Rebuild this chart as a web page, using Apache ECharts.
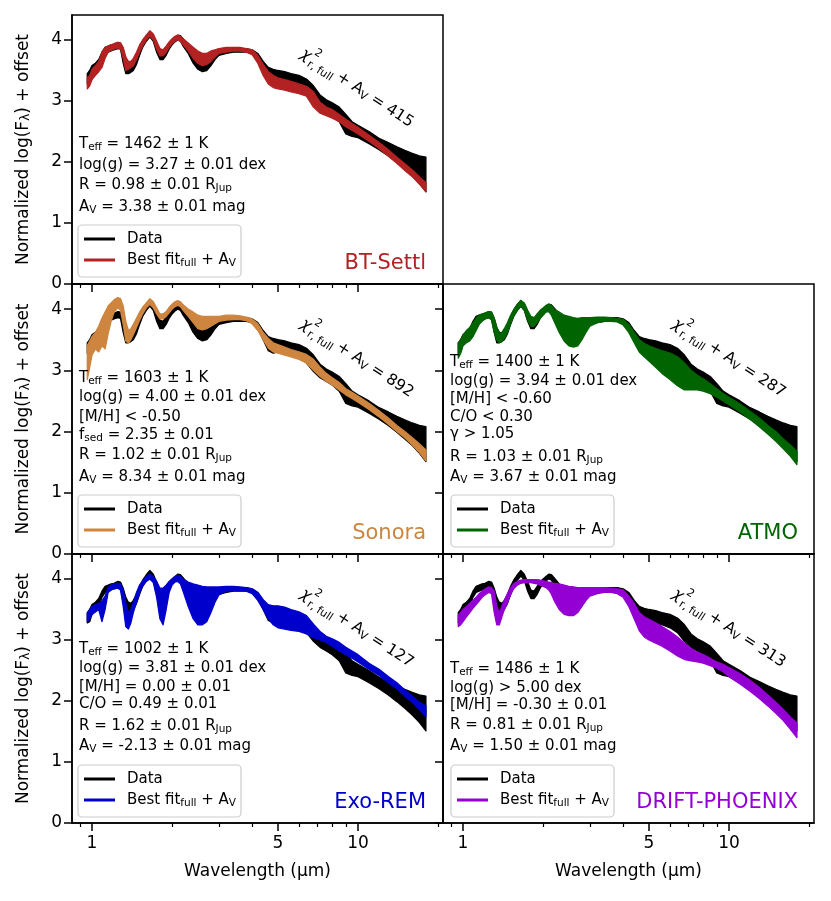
<!DOCTYPE html>
<html><head><meta charset="utf-8">
<script src="https://cdn.jsdelivr.net/npm/echarts@6/dist/echarts.min.js"></script>
<style>html,body{margin:0;padding:0;background:#fff}#chart{width:831px;height:901px}</style>
</head><body><div id="chart"></div>
<script>
// ---------------- DATA ----------------
const wavelength = [0.96,0.98,1.00,1.03,1.06,1.09,1.12,1.15,1.18,1.21,
  1.25,1.28,1.31,1.34,1.37,1.40,1.43,1.47,1.51,1.55,
  1.60,1.65,1.70,1.75,1.80,1.85,1.90,1.95,2.00,2.05,
  2.10,2.15,2.20,2.30,2.40,2.50,2.60,2.70,2.80,2.90,
  3.00,3.20,3.40,3.60,3.80,4.00,4.20,4.40,4.60,4.80,
  5.00,5.30,5.60,6.00,6.40,6.80,7.20,7.60,8.00,8.50,
  9.00,9.50,10.0,11.0,12.0,13.0,14.0,15.0,16.0,17.0,
  18.0];

const dataLow = [3.28,3.30,3.42,3.48,3.55,3.70,3.78,3.80,3.82,3.84,
  3.86,3.85,3.62,3.45,3.45,3.47,3.50,3.60,3.75,3.88,
  3.98,4.05,3.98,3.80,3.68,3.68,3.75,3.85,3.92,3.97,
  4.00,3.98,3.90,3.78,3.62,3.52,3.48,3.50,3.58,3.68,
  3.75,3.78,3.80,3.80,3.80,3.78,3.68,3.50,3.32,3.28,
  3.30,3.28,3.25,3.20,3.12,2.98,2.88,2.82,2.76,2.66,
  2.46,2.42,2.40,2.30,2.20,2.10,1.99,1.88,1.77,1.65,
  1.51];
const dataHigh = [3.45,3.50,3.58,3.62,3.68,3.80,3.88,3.90,3.92,3.93,
  3.96,3.95,3.85,3.70,3.62,3.60,3.65,3.75,3.88,3.98,
  4.07,4.14,4.08,3.95,3.82,3.80,3.88,3.95,4.00,4.04,
  4.08,4.07,4.02,3.92,3.82,3.75,3.70,3.68,3.75,3.80,
  3.85,3.86,3.86,3.86,3.86,3.84,3.78,3.65,3.55,3.52,
  3.50,3.48,3.45,3.42,3.36,3.25,3.10,3.02,2.97,2.90,
  2.78,2.66,2.60,2.50,2.39,2.32,2.25,2.19,2.14,2.10,
  2.08];

const btSettlLow = [3.20,3.25,3.35,3.42,3.48,3.55,3.70,3.80,3.83,3.85,
  3.87,3.86,3.70,3.50,3.52,3.55,3.58,3.68,3.80,3.90,
  4.00,4.07,4.00,3.85,3.74,3.74,3.80,3.88,3.94,3.98,
  4.00,3.98,3.92,3.82,3.70,3.62,3.58,3.60,3.65,3.72,
  3.78,3.80,3.82,3.82,3.80,3.76,3.62,3.42,3.28,3.22,
  3.20,3.18,3.15,3.12,3.08,2.90,2.80,2.76,2.72,2.66,
  2.58,2.52,2.46,2.34,2.22,2.10,1.98,1.86,1.76,1.64,
  1.52];
const btSettlHigh = [3.38,3.42,3.52,3.58,3.65,3.80,3.88,3.90,3.92,3.94,
  3.96,3.95,3.88,3.72,3.65,3.65,3.70,3.80,3.92,4.00,
  4.08,4.15,4.10,3.98,3.86,3.84,3.90,3.97,4.02,4.06,
  4.08,4.06,4.02,3.95,3.88,3.82,3.78,3.78,3.82,3.84,
  3.86,3.88,3.88,3.88,3.86,3.84,3.75,3.60,3.48,3.42,
  3.38,3.35,3.32,3.28,3.24,3.15,2.98,2.90,2.86,2.78,
  2.70,2.63,2.57,2.44,2.32,2.20,2.08,1.97,1.87,1.76,
  1.66];

const sonoraLow = [2.85,3.05,3.25,3.35,3.30,3.40,3.35,3.60,3.80,3.95,
  4.02,3.98,3.75,3.48,3.45,3.50,3.58,3.70,3.82,3.92,
  4.02,4.08,4.02,3.92,3.84,3.84,3.88,3.94,4.00,4.04,
  4.06,4.04,3.98,3.88,3.78,3.68,3.66,3.68,3.72,3.76,
  3.80,3.82,3.83,3.83,3.81,3.76,3.65,3.50,3.36,3.30,
  3.28,3.25,3.22,3.18,3.12,3.00,2.90,2.82,2.76,2.68,
  2.60,2.54,2.48,2.36,2.24,2.12,2.00,1.90,1.78,1.66,
  1.52];
const sonoraHigh = [3.40,3.48,3.55,3.62,3.72,3.85,3.95,4.05,4.10,4.15,
  4.19,4.17,4.05,3.80,3.65,3.68,3.75,3.85,3.95,4.03,
  4.10,4.17,4.12,4.02,3.92,3.92,3.96,4.03,4.08,4.12,
  4.14,4.12,4.07,4.00,3.95,3.90,3.88,3.88,3.88,3.88,
  3.88,3.90,3.90,3.89,3.87,3.84,3.76,3.62,3.52,3.45,
  3.42,3.38,3.34,3.30,3.26,3.18,3.05,2.95,2.88,2.80,
  2.70,2.64,2.58,2.46,2.34,2.22,2.10,2.00,1.90,1.80,
  1.70];

const atmoLow = [3.20,3.28,3.40,3.45,3.48,3.55,3.65,3.75,3.80,3.84,
  3.86,3.82,3.62,3.50,3.45,3.47,3.52,3.62,3.76,3.88,
  3.98,4.05,3.98,3.82,3.72,3.72,3.78,3.85,3.90,3.95,
  3.96,3.90,3.80,3.62,3.48,3.40,3.38,3.40,3.50,3.62,
  3.72,3.78,3.80,3.80,3.79,3.74,3.62,3.45,3.30,3.22,
  3.15,3.05,2.95,2.85,2.75,2.68,2.68,2.68,2.66,2.62,
  2.56,2.50,2.44,2.32,2.20,2.08,1.96,1.84,1.72,1.60,
  1.46];
const atmoHigh = [3.45,3.50,3.58,3.65,3.70,3.78,3.85,3.90,3.92,3.94,
  3.96,3.95,3.85,3.70,3.60,3.62,3.68,3.78,3.90,3.99,
  4.08,4.14,4.10,3.98,3.88,3.86,3.92,3.98,4.02,4.06,
  4.08,4.06,4.00,3.95,3.90,3.88,3.86,3.85,3.86,3.86,
  3.86,3.87,3.87,3.86,3.85,3.83,3.75,3.62,3.50,3.44,
  3.40,3.36,3.32,3.28,3.22,3.12,3.00,2.92,2.86,2.78,
  2.70,2.62,2.56,2.45,2.33,2.22,2.10,2.00,1.88,1.78,
  1.68];

const exoRemLow = [3.30,3.35,3.42,3.46,3.50,3.30,3.50,3.78,3.82,3.84,
  3.85,3.82,3.55,3.22,3.18,3.28,3.45,3.62,3.78,3.88,
  3.96,4.00,3.94,3.70,3.35,3.25,3.50,3.78,3.90,3.95,
  3.96,3.92,3.80,3.55,3.35,3.25,3.25,3.30,3.45,3.62,
  3.74,3.80,3.81,3.81,3.80,3.76,3.65,3.50,3.35,3.25,
  3.20,3.18,3.16,3.14,3.10,3.04,3.00,2.96,2.90,2.82,
  2.76,2.70,2.64,2.52,2.42,2.30,2.20,2.08,1.98,1.86,
  1.74];
const exoRemHigh = [3.44,3.50,3.55,3.58,3.60,3.64,3.72,3.86,3.90,3.92,
  3.93,3.92,3.82,3.60,3.45,3.50,3.62,3.78,3.90,3.97,
  4.04,4.08,4.04,3.96,3.85,3.85,3.90,3.96,4.00,4.04,
  4.06,4.04,4.00,3.95,3.92,3.90,3.88,3.87,3.87,3.87,
  3.87,3.88,3.88,3.87,3.86,3.84,3.78,3.66,3.58,3.56,
  3.56,3.54,3.50,3.46,3.40,3.26,3.14,3.06,3.02,2.96,
  2.88,2.82,2.76,2.62,2.52,2.40,2.30,2.18,2.08,1.98,
  1.92];

const driftLow = [3.22,3.25,3.30,3.38,3.45,3.52,3.58,3.64,3.70,3.74,
  3.78,3.76,3.45,3.25,3.25,3.38,3.50,3.62,3.74,3.84,
  3.90,3.93,3.94,3.94,3.94,3.93,3.92,3.90,3.88,3.86,
  3.82,3.75,3.65,3.50,3.42,3.40,3.40,3.45,3.55,3.65,
  3.72,3.76,3.78,3.78,3.76,3.70,3.55,3.35,3.15,3.05,
  3.00,2.95,2.90,2.82,2.74,2.68,2.66,2.64,2.62,2.58,
  2.54,2.48,2.40,2.28,2.16,2.04,1.92,1.80,1.68,1.54,
  1.40];
const driftHigh = [3.41,3.45,3.50,3.55,3.60,3.65,3.70,3.76,3.80,3.84,
  3.87,3.86,3.80,3.55,3.45,3.55,3.65,3.76,3.86,3.92,
  3.96,3.98,3.99,3.99,3.99,3.99,3.99,3.98,3.97,3.96,
  3.95,3.94,3.93,3.92,3.90,3.88,3.87,3.86,3.86,3.86,
  3.86,3.86,3.86,3.85,3.84,3.82,3.72,3.60,3.45,3.38,
  3.34,3.28,3.22,3.14,3.05,2.95,2.86,2.80,2.76,2.70,
  2.64,2.60,2.55,2.45,2.34,2.22,2.10,1.98,1.86,1.74,
  1.64];

const modelNames = ['BT-Settl','Sonora','ATMO','Exo-REM','DRIFT-PHOENIX'];
const chiValues = [415, 892, 287, 127, 313];
const paramTexts = [
  ['T{s|eff} = 1462 ± 1 K','log(g) = 3.27 ± 0.01 dex','R = 0.98 ± 0.01 R{s|Jup}','A{s|V} = 3.38 ± 0.01 mag'],
  ['T{s|eff} = 1603 ± 1 K','log(g) = 4.00 ± 0.01 dex','[M/H] < -0.50','f{s|sed} = 2.35 ± 0.01','R = 1.02 ± 0.01 R{s|Jup}','A{s|V} = 8.34 ± 0.01 mag'],
  ['T{s|eff} = 1400 ± 1 K','log(g) = 3.94 ± 0.01 dex','[M/H] < -0.60','C/O < 0.30','γ > 1.05','R = 1.03 ± 0.01 R{s|Jup}','A{s|V} = 3.67 ± 0.01 mag'],
  ['T{s|eff} = 1002 ± 1 K','log(g) = 3.81 ± 0.01 dex','[M/H] = 0.00 ± 0.01','C/O = 0.49 ± 0.01','R = 1.62 ± 0.01 R{s|Jup}','A{s|V} = -2.13 ± 0.01 mag'],
  ['T{s|eff} = 1486 ± 1 K','log(g) > 5.00 dex','[M/H] = -0.30 ± 0.01','R = 0.81 ± 0.01 R{s|Jup}','A{s|V} = 1.50 ± 0.01 mag']
];
const yTicks = [0,1,2,3,4];
const xTickLabels = [1,5,10];
const xMinorTicks = [0.9,2,3,4,6,7,8,9,20];
const legendLabels = ['Data','Best fit{s|full} + A{s|V}'];

// ---------------- LAYOUT / STYLE ----------------
const FONT = 'DejaVu Sans';
const modelLows = [btSettlLow, sonoraLow, atmoLow, exoRemLow, driftLow];
const modelHighs = [btSettlHigh, sonoraHigh, atmoHigh, exoRemHigh, driftHigh];
const colors = ['#B22222','#CD853F','#006400','#0000CD','#9400D3'];
const grids = [
  {left:72, top:15, width:371, height:269},
  {left:72, top:284, width:371, height:270},
  {left:443, top:284, width:371, height:270},
  {left:72, top:554, width:371, height:269},
  {left:443, top:554, width:371, height:269}
];
const leftCol = [true,true,false,true,false];
const bottomRow = [false,false,false,true,true];
const paramX = [79,79,450,79,450];
const paramY = [
  [144,165,185,207],
  [378,397,417,435,455,477],
  [362,381,399,417,434,457,477],
  [649,668,687,704,726,746],
  [669,688,705,725,746]
];
const legendPos = [[78,225],[78,495],[451,495],[78,765],[451,765]];
const namePos = [[426,264],[426,534],[798,534],[426,803],[798,803]];
const chiPos = [[306,55],[306,325],[678,325],[306,595],[678,595]];

const subRich = {s:{fontSize:10.5, fontFamily:FONT, fill:'#000', verticalAlign:'bottom', lineHeight:8}};

function txt(x, y, text, extra) {
  return Object.assign({type:'text', x:x, y:y, z:100, silent:true,
    style:Object.assign({text:text, fontSize:15, fontFamily:FONT, fill:'#000', align:'left',
      verticalAlign:'middle', lineHeight:18, rich:subRich}, extra || {})});
}

const xAxes = [], yAxes = [], series = [], graphics = [];
grids.forEach(function(g, i){
  xAxes.push({
    type:'log', gridIndex:i, logBase:10, min:0.841, max:20.87, position:'bottom',
    axisLine:{show:true, onZero:false, lineStyle:{color:'#000', width:1.5}},
    axisTick:{show:true, length:8, lineStyle:{color:'#000', width:1.5}, customValues:xTickLabels},
    axisLabel:{show:bottomRow[i], customValues:xTickLabels, color:'#000', fontSize:17, fontFamily:FONT, margin:12,
      formatter:function(v){return String(v);}},
    splitLine:{show:false},
    name: bottomRow[i] ? 'Wavelength (µm)' : '', nameLocation:'middle', nameGap:40,
    nameTextStyle:{color:'#000', fontSize:17, fontFamily:FONT}
  });
  xAxes.push({
    type:'log', gridIndex:i, logBase:10, min:0.841, max:20.87, position:'bottom',
    axisLine:{show:false, onZero:false},
    axisTick:{show:true, length:4, lineStyle:{color:'#000', width:1.2}, customValues:xMinorTicks},
    axisLabel:{show:false}, splitLine:{show:false}
  });
  yAxes.push({
    type:'value', gridIndex:i, min:0, max:4.41,
    axisLine:{show:true, onZero:false, lineStyle:{color:'#000', width:1.5}},
    axisTick:{show:true, length:8, lineStyle:{color:'#000', width:1.5}, customValues:yTicks},
    axisLabel:{show:leftCol[i], customValues:yTicks, color:'#000', fontSize:17, fontFamily:FONT, margin:10},
    splitLine:{show:false},
    name: leftCol[i] ? 'Normalized log(F{s|λ}) + offset' : '', nameLocation:'middle', nameGap:40, nameRotate:90,
    nameTextStyle:{color:'#000', fontSize:17, fontFamily:FONT,
      rich:{s:{fontSize:12, fontFamily:FONT, color:'#000', verticalAlign:'bottom', lineHeight:9}}}
  });

  function band(low, high, color, z) {
    return {
      type:'custom', coordinateSystem:'cartesian2d', xAxisIndex:i*2, yAxisIndex:i, clip:true, z:z,
      silent:true,
      data: wavelength.map(function(w, k){ return [w, low[k], high[k]]; }),
      encode:{x:0, y:[1,2]},
      renderItem:function(params, api){
        if (params.dataIndex !== 0) return null;
        const pts = [];
        for (let k = 0; k < wavelength.length; k++) pts.push(api.coord([wavelength[k], high[k]]));
        for (let k = wavelength.length - 1; k >= 0; k--) pts.push(api.coord([wavelength[k], low[k]]));
        return {type:'polygon', shape:{points:pts},
          style:{fill:color, stroke:color, lineWidth:1.3, lineJoin:'round'}};
      }
    };
  }
  series.push(band(dataLow, dataHigh, '#000', 2));
  series.push(band(modelLows[i], modelHighs[i], colors[i], 3));

  paramTexts[i].forEach(function(t, k){ graphics.push(txt(paramX[i], paramY[i][k], t)); });

  const lx = legendPos[i][0], ly = legendPos[i][1];
  graphics.push({type:'rect', z:90, silent:true, shape:{x:lx, y:ly, width:163, height:52, r:4},
    style:{fill:'rgba(255,255,255,0.8)', stroke:'#cccccc', lineWidth:1.2}});
  graphics.push({type:'line', z:95, silent:true, shape:{x1:lx+6, y1:ly+14, x2:lx+37, y2:ly+14},
    style:{stroke:'#000', lineWidth:3}});
  graphics.push({type:'line', z:95, silent:true, shape:{x1:lx+6, y1:ly+35, x2:lx+37, y2:ly+35},
    style:{stroke:colors[i], lineWidth:3}});
  graphics.push(txt(lx+49, ly+14, legendLabels[0]));
  graphics.push(txt(lx+49, ly+35, legendLabels[1]));

  graphics.push(txt(namePos[i][0], namePos[i][1], modelNames[i], {fontSize:21, fill:colors[i], align:'right', lineHeight:24}));

  graphics.push({type:'group', x:chiPos[i][0], y:chiPos[i][1], rotation:-33*Math.PI/180, z:100, silent:true,
    children:[
      {type:'text', x:0, y:0, style:{text:'χ', fontSize:16, fontStyle:'italic', fontFamily:FONT, fill:'#000', align:'center', verticalAlign:'middle'}},
      {type:'text', x:6, y:-8, style:{text:'2', fontSize:11, fontFamily:FONT, fill:'#000', align:'left', verticalAlign:'middle'}},
      {type:'text', x:6, y:6, style:{text:'r, full', fontSize:11, fontFamily:FONT, fill:'#000', align:'left', verticalAlign:'middle'}},
      {type:'text', x:38, y:0, style:{text:'+ A{s|V} = ' + chiValues[i], fontSize:15.5, fontFamily:FONT, fill:'#000', align:'left', verticalAlign:'middle', lineHeight:18, rich:{s:{fontSize:11, fontFamily:FONT, fill:'#000', verticalAlign:'bottom', lineHeight:8}}}}
    ]});
});

const chart = echarts.init(document.getElementById('chart'), null, {renderer:'canvas'});
chart.setOption({
  animation:false,
  backgroundColor:'#fff',
  grid: grids.map(function(g){ return Object.assign({show:true, borderColor:'#000', borderWidth:1.5, backgroundColor:'transparent'}, g); }),
  xAxis:xAxes, yAxis:yAxes, series:series, graphic:graphics
});
</script></body></html>
